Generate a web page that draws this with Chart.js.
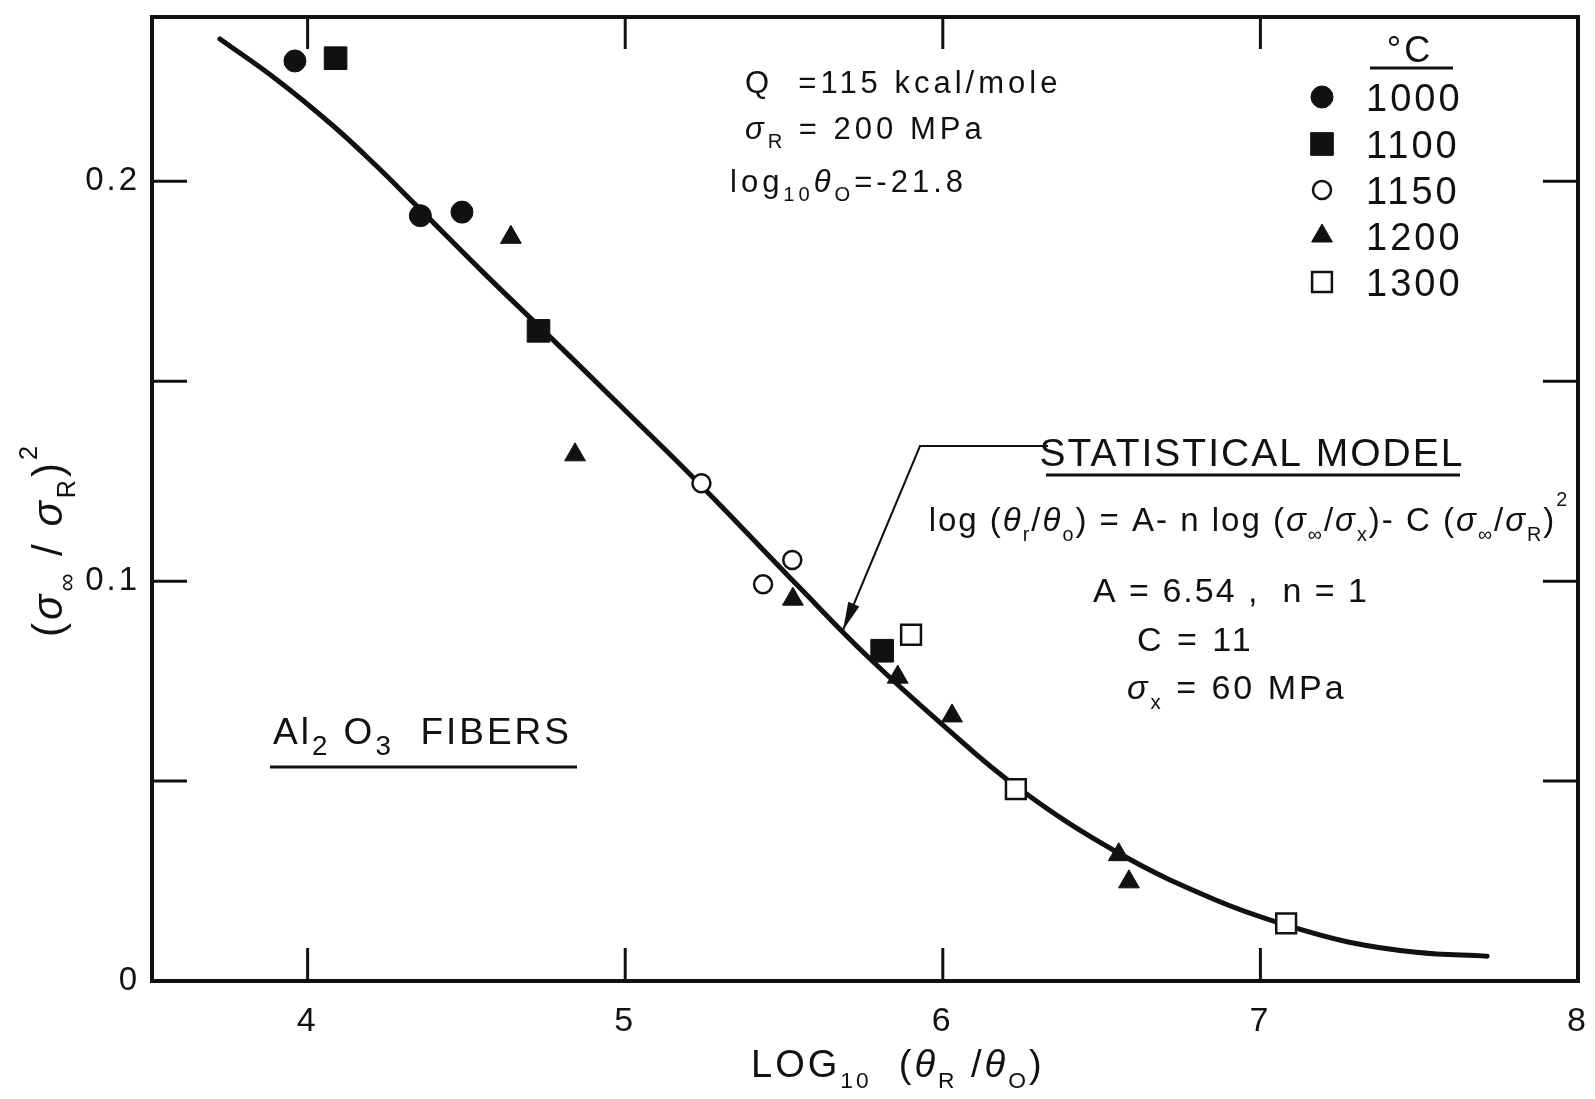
<!DOCTYPE html>
<html>
<head>
<meta charset="utf-8">
<script src="https://cdn.jsdelivr.net/npm/chart.js@4.4.1/dist/chart.umd.min.js"></script>
<style>
    html, body { margin: 0; padding: 0; background: #fff; }
</style>
</head>
<body>
<canvas id="fiberChart" width="1595" height="1099"></canvas>
<script>
// values: x = log10(θR/θ0), y = (σ∞/σR)^2
const temps = ['1000', '1100', '1150', '1200', '1300'];

const x1000 = [3.96, 4.355, 4.486];
const y1000 = [0.2301, 0.1914, 0.1923];
const x1100 = [4.088, 4.727, 5.809];
const y1100 = [0.2308, 0.1626, 0.0826];
const x1150 = [5.240, 5.434, 5.526];
const y1150 = [0.1245, 0.0992, 0.1053];
const x1200 = [4.640, 4.842, 5.528, 5.858, 6.029, 6.554, 6.586];
const y1200 = [0.1860, 0.1316, 0.0955, 0.0760, 0.0663, 0.0316, 0.0248];
const x1300 = [5.900, 6.230, 7.081];
const y1300 = [0.0866, 0.0480, 0.0144];

// statistical model curve
const modelX = [3.724, 3.903, 4.080, 4.212, 4.344, 4.552, 4.772, 4.983, 5.234, 5.549, 5.760, 5.996, 6.232, 6.556, 6.861, 7.085, 7.280, 7.490, 7.714];
const modelY = [0.2356, 0.2254, 0.2139, 0.2042, 0.1938, 0.1773, 0.1604, 0.1440, 0.1243, 0.0984, 0.0814, 0.0643, 0.0486, 0.0319, 0.0202, 0.0139, 0.0097, 0.0072, 0.0062];

const xTicks = [4, 5, 6, 7, 8];
const yTicks = [0, 0.05, 0.1, 0.15, 0.2];
const yTickLabels = ['0', '', '0.1', '', '0.2'];

const FONT = "'Liberation Sans', Arial, sans-serif";
const INK = '#111';

function pts(xs, ys) {
    return xs.map((x, i) => ({ x: x, y: ys[i] }));
}

function fontFor(size, italic) {
    return (italic ? 'italic ' : '') + size + 'px ' + FONT;
}

// runs: [text, scale, shift(em), italic]
function richText(ctx, runs, x, y, size, align) {
    let widths = runs.map(r => {
        ctx.font = fontFor(size * (r[1] || 1), r[3]);
        return ctx.measureText(r[0]).width;
    });
    let total = widths.reduce((a, b) => a + b, 0);
    let cx = align === 'center' ? x - total / 2 : x;
    runs.forEach((r, i) => {
        ctx.font = fontFor(size * (r[1] || 1), r[3]);
        ctx.fillText(r[0], cx, y + (r[2] || 0) * size);
        cx += widths[i];
    });
    return total;
}

function line(ctx, x1, y1, x2, y2, w) {
    ctx.lineWidth = w;
    ctx.beginPath();
    ctx.moveTo(x1, y1);
    ctx.lineTo(x2, y2);
    ctx.stroke();
}

function marker(ctx, ds, x, y) {
    ctx.save();
    ctx.fillStyle = ds.backgroundColor;
    ctx.strokeStyle = ds.borderColor;
    ctx.lineWidth = ds.borderWidth;
    Chart.helpers.drawPoint(ctx, {
        pointStyle: ds.pointStyle,
        radius: ds.pointRadius,
        rotation: 0,
        borderWidth: ds.borderWidth
    }, x, y);
    ctx.restore();
}

// box round the plot with inward ticks
const framePlugin = {
    id: 'frame',
    beforeDraw(chart) {
        // wider lettering for the tick labels too
        chart.ctx.letterSpacing = '3px';
    },
    beforeDatasetsDraw(chart) {
        const ctx = chart.ctx;
        const a = chart.chartArea;
        const xs = chart.scales.x, ys = chart.scales.y;
        ctx.save();
        ctx.strokeStyle = INK;
        ctx.lineCap = 'square';
        ctx.lineWidth = 4;
        ctx.strokeRect(a.left, a.top, a.right - a.left, a.bottom - a.top);
        ctx.lineCap = 'butt';
        xTicks.forEach(v => {
            let px = xs.getPixelForValue(v);
            if (px > a.right - 2) return;
            line(ctx, px, a.bottom, px, a.bottom - 33, 3);
            line(ctx, px, a.top, px, a.top + 32, 3);
        });
        yTicks.forEach(v => {
            if (v === 0) return;
            let py = ys.getPixelForValue(v);
            line(ctx, a.left, py, a.left + 35, py, 3);
            line(ctx, a.right, py, a.right - 35, py, 3);
        });
        ctx.restore();
    }
};

// titles, legend and notes
const notesPlugin = {
    id: 'notes',
    afterDraw(chart) {
        const ctx = chart.ctx;
        ctx.save();
        ctx.fillStyle = INK;
        ctx.strokeStyle = INK;
        ctx.textBaseline = 'alphabetic';
        ctx.letterSpacing = '3px';

        // axis titles
        richText(ctx, [['LOG'], ['10', 0.6, 0.3], ['  ('], ['θ', 1, 0, true], ['R', 0.6, 0.3], [' /'], ['θ', 1, 0, true], ['O', 0.6, 0.3], [')']],
            751, 1077, 38, 'left');
        ctx.save();
        ctx.translate(62, 540);
        ctx.rotate(-Math.PI / 2);
        richText(ctx, [['('], ['σ', 1, 0, true], ['∞', 0.6, 0.3], [' / '], ['σ', 1, 0, true], ['R', 0.6, 0.3], [')'], ['2', 0.6, -0.6]],
            0, 0, 42, 'center');
        ctx.restore();

        // constants at top
        ctx.letterSpacing = '4px';
        richText(ctx, [['Q  =115 kcal/mole']], 745, 93, 31, 'left');
        richText(ctx, [['σ', 1, 0, true], ['R', 0.65, 0.3], [' = 200 MPa']], 745, 139, 31, 'left');
        richText(ctx, [['log'], ['10', 0.65, 0.3], ['θ', 1, 0, true], ['O', 0.65, 0.3], ['=-21.8']], 730, 192, 31, 'left');
        ctx.letterSpacing = '3px';

        // legend
        const sets = chart.data.datasets;
        richText(ctx, [['°C']], 1410, 62, 36, 'center');
        line(ctx, 1370, 68, 1453, 68, 3);
        const rowsY = [97, 144, 190, 236, 282];
        temps.forEach((t, i) => {
            marker(ctx, sets[i], 1322, rowsY[i]);
            ctx.fillStyle = INK;
            richText(ctx, [[t]], 1366, rowsY[i] + 14, 38, 'left');
        });

        // statistical model block
        ctx.letterSpacing = '2px';
        richText(ctx, [['STATISTICAL MODEL']], 1252, 466, 39, 'center');
        line(ctx, 1046, 475, 1460, 475, 3);
        richText(ctx, [
            ['log ('], ['θ', 1, 0, true], ['r', 0.6, 0.3], ['/'], ['θ', 1, 0, true], ['o', 0.6, 0.3],
            [') = A- n log ('], ['σ', 1, 0, true], ['∞', 0.6, 0.3], ['/'], ['σ', 1, 0, true], ['x', 0.6, 0.3],
            [')- C ('], ['σ', 1, 0, true], ['∞', 0.6, 0.3], ['/'], ['σ', 1, 0, true], ['R', 0.6, 0.3], [')'], ['2', 0.6, -0.75]
        ], 1249, 531, 33, 'center');
        richText(ctx, [['A = 6.54 ,  n = 1']], 1093, 602, 34, 'left');
        ctx.letterSpacing = '3px';
        richText(ctx, [['C = 11']], 1137, 651, 34, 'left');
        richText(ctx, [['σ', 1, 0, true], ['x', 0.6, 0.3], [' = 60 MPa']], 1127, 699, 34, 'left');

        // leader arrow to the curve
        ctx.lineJoin = 'miter';
        ctx.lineWidth = 2;
        ctx.beginPath();
        ctx.moveTo(1048, 446);
        ctx.lineTo(920, 446);
        ctx.lineTo(843, 630);
        ctx.stroke();
        const ang = Math.atan2(630 - 446, 843 - 920);
        ctx.beginPath();
        ctx.moveTo(843, 630);
        ctx.lineTo(843 - 28 * Math.cos(ang) + 6 * Math.sin(ang), 630 - 28 * Math.sin(ang) - 6 * Math.cos(ang));
        ctx.lineTo(843 - 28 * Math.cos(ang) - 6 * Math.sin(ang), 630 - 28 * Math.sin(ang) + 6 * Math.cos(ang));
        ctx.closePath();
        ctx.fill();

        // material label
        richText(ctx, [['Al'], ['2', 0.75, 0.3], [' O'], ['3', 0.75, 0.3], ['  FIBERS']], 273, 744, 37, 'left');
        line(ctx, 270, 767, 577, 767, 3);
        ctx.restore();
    }
};

const ctx = document.getElementById('fiberChart');
new Chart(ctx, {
    type: 'scatter',
    data: {
        datasets: [
            { label: '1000', data: pts(x1000, y1000), pointStyle: 'circle', pointRadius: 11, backgroundColor: INK, borderColor: INK, borderWidth: 1 },
            { label: '1100', data: pts(x1100, y1100), pointStyle: 'rect', pointRadius: 16, backgroundColor: INK, borderColor: INK, borderWidth: 1 },
            { label: '1150', data: pts(x1150, y1150), pointStyle: 'circle', pointRadius: 9, backgroundColor: '#fff', borderColor: INK, borderWidth: 2.5 },
            { label: '1200', data: pts(x1200, y1200), pointStyle: 'triangle', pointRadius: 12, backgroundColor: INK, borderColor: INK, borderWidth: 1 },
            { label: '1300', data: pts(x1300, y1300), pointStyle: 'rect', pointRadius: 14, backgroundColor: '#fff', borderColor: INK, borderWidth: 2.5 },
            {
                type: 'line', label: 'model', data: pts(modelX, modelY),
                borderColor: INK, borderWidth: 5, pointRadius: 0,
                tension: 0.4, fill: false, borderCapStyle: 'round'
            }
        ]
    },
    options: {
        responsive: false,
        animation: false,
        layout: { padding: { top: 13, right: 16, left: 0, bottom: 0 } },
        plugins: {
            legend: { display: false },
            tooltip: { enabled: false }
        },
        scales: {
            x: {
                type: 'linear', min: 3.51, max: 8,
                grid: { display: false }, border: { display: false },
                afterBuildTicks: s => { s.ticks = xTicks.map(v => ({ value: v })); },
                afterFit: s => { s.height = 118; s.paddingLeft = 0; s.paddingRight = 0; },
                ticks: {
                    font: { size: 34, family: FONT }, color: INK, padding: 12,
                    maxRotation: 0, autoSkip: false,
                    callback: v => String(v)
                }
            },
            y: {
                type: 'linear', min: 0, max: 0.2411,
                grid: { display: false }, border: { display: false },
                afterBuildTicks: s => { s.ticks = yTicks.map(v => ({ value: v })); },
                afterFit: s => { s.width = 152; s.paddingTop = 0; s.paddingBottom = 0; },
                ticks: {
                    font: { size: 33, family: FONT }, color: INK, padding: 4,
                    autoSkip: false,
                    callback: (v, i) => yTickLabels[i]
                }
            }
        }
    },
    plugins: [framePlugin, notesPlugin]
});
</script>
</body>
</html>
